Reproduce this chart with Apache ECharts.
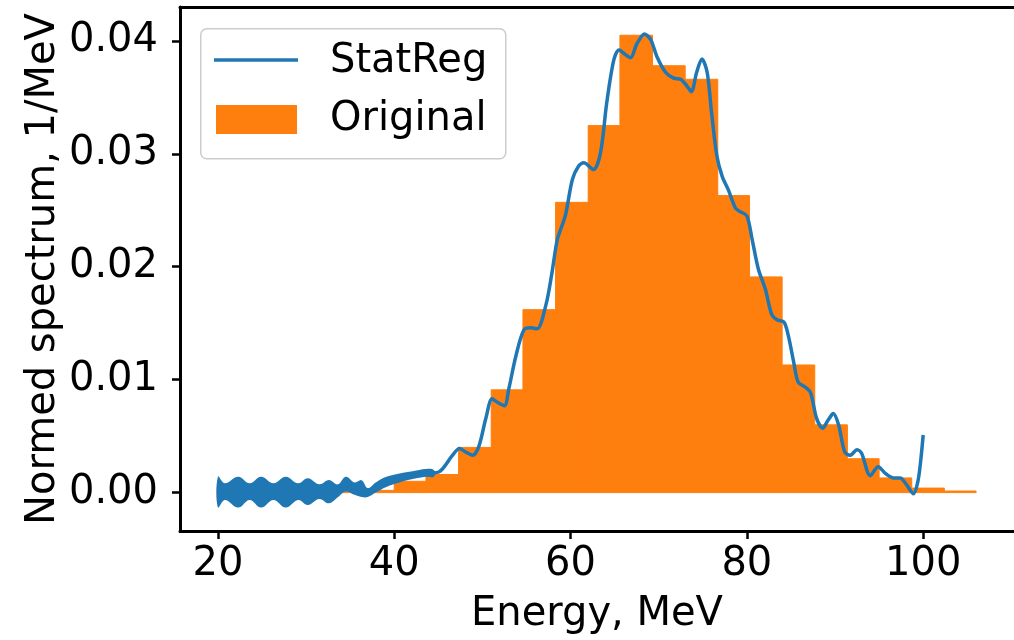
<!DOCTYPE html>
<html>
<head>
<meta charset="utf-8">
<script src="https://cdn.jsdelivr.net/npm/echarts@6/dist/echarts.min.js"></script>
<style>
html,body{margin:0;padding:0;background:#fff;}
#chart{width:1014px;height:640px;}
</style>
</head>
<body>
<div id="chart"></div>
<script>
// Histogram "Original": bin edges (MeV) and heights (1/MeV)
const binEdges = [32.6, 36.3, 40.0, 43.6, 47.3, 51.0, 54.6, 58.3, 62.0, 65.6, 69.3, 73.0, 76.7, 80.3, 84.0, 87.7, 91.4, 95.0, 98.7, 102.4, 106.0];
const histValues = [0.0001, 0.0002, 0.0010, 0.0016, 0.0040, 0.0091, 0.0162, 0.0257, 0.0325, 0.0405, 0.0378, 0.0366, 0.0263, 0.0191, 0.0113, 0.0060, 0.0030, 0.0013, 0.0004, 0.00014];

// StatReg curve (centre line)
const statX = [20.0, 24.0, 28.0, 32.0, 33.6, 34.5, 35.5, 36.3, 37.0, 37.9, 39.1, 40.6, 42.1, 43.6, 45.1,
  46.6, 47.4, 48.1, 48.9, 49.6, 50.4, 51.1, 51.7, 52.5, 53.0, 53.8, 54.7, 55.5, 56.2, 57.2, 57.9, 58.5,
  59.4, 60.2, 60.9, 61.5, 62.6, 63.4, 64.1, 64.9, 65.5, 66.2, 66.8, 67.5, 68.4, 69.1, 69.8, 70.8, 71.7,
  72.5, 73.2, 73.7, 74.3, 74.9, 75.5, 76.0, 76.6, 77.2, 77.9, 78.7, 79.2, 80.0, 80.6, 81.3, 82.1, 82.8,
  83.4, 84.2, 84.7, 85.3, 85.8, 86.5, 87.2, 87.9, 88.6, 89.2, 89.8, 90.4, 91.1, 91.7, 92.5, 93.0, 94.0,
  94.9, 95.7, 96.6, 97.4, 98.1, 98.9, 99.4, 99.7, 100.0];
const statY = [0.0001, 0.0001, 0.0001, 0.0001, 0.0002, 0.0007, 0.0004, 0.0004, 0.0000, 0.0004, 0.0009, 0.0013, 0.0015, 0.0017, 0.00185,
  0.0033, 0.0039, 0.0036, 0.0033, 0.0041, 0.0066, 0.0083, 0.0080, 0.0077, 0.0092, 0.0121, 0.0144, 0.0146, 0.0145, 0.0166, 0.0195, 0.0224,
  0.0245, 0.0277, 0.0289, 0.0292, 0.0286, 0.0301, 0.0345, 0.0383, 0.0392, 0.0388, 0.0385, 0.0397, 0.0406, 0.0401, 0.0386, 0.0372, 0.0367,
  0.0366, 0.0360, 0.0355, 0.0372, 0.0384, 0.0372, 0.0336, 0.0298, 0.0280, 0.0268, 0.0252, 0.0249, 0.0245, 0.0224, 0.0198, 0.0180, 0.0158,
  0.0153, 0.0151, 0.0139, 0.0116, 0.0098, 0.0094, 0.0089, 0.0066, 0.0057, 0.0064, 0.0070, 0.0060, 0.0036, 0.0033, 0.0038, 0.0035, 0.0015,
  0.0023, 0.0017, 0.0013, 0.0013, 0.0007, -0.0001, 0.0010, 0.0027, 0.0051];

// Envelope of the fast oscillation of the StatReg curve at low energies
const bandX  = [20.0, 20.8, 22.3, 23.6, 24.9, 26.3, 27.7, 29.1, 30.2, 31.5, 32.6, 33.6, 34.5, 35.5, 36.3, 37.0, 37.9, 39.1, 40.6, 42.1, 43.6, 44.5];
const bandHi = [0.00141, 0.00082, 0.00141, 0.00082, 0.00141, 0.00082, 0.00141, 0.00082, 0.00126, 0.00073, 0.00111, 0.00073, 0.00141, 0.0009, 0.0011, 0.0004, 0.0009, 0.0014, 0.0017, 0.0019, 0.0021, 0.0020];
const bandLo = [-0.00132, -0.00065, -0.00132, -0.00065, -0.00132, -0.00065, -0.00132, -0.00065, -0.00109, -0.00056, -0.00094, -0.00041, 0.0001, -0.0002, -0.0004, -0.0004, 0.0000, 0.0005, 0.0009, 0.0012, 0.0014, 0.0014];

// Axis tick labels
const xTicks = [20, 40, 60, 80, 100];
const yTicks = [0, 0.01, 0.02, 0.03, 0.04];

const BLUE = '#1f77b4';
const ORANGE = '#ff7f0e';
const FONT = 'DejaVu Sans';

const histData = histValues.map((v, i) => [binEdges[i], binEdges[i + 1], v]);
const lineData = statX.map((x, i) => [x, statY[i]]);
const bandData = bandX.map((x, i) => [x, bandLo[i], bandHi[i]]);

const chart = echarts.init(document.getElementById('chart'), null, {renderer: 'canvas'});
chart.setOption({
  animation: false,
  backgroundColor: '#fff',
  grid: {left: 180, right: -3, top: 7, bottom: 107, show: false},
  xAxis: [{
    type: 'value', min: 15.7, max: 110.3, position: 'bottom',
    name: 'Energy, MeV', nameLocation: 'middle', nameGap: 64, nameMoveOverlap: false,
    nameTextStyle: {fontSize: 40, color: '#000', fontFamily: FONT},
    axisLine: {show: true, onZero: false, lineStyle: {color: '#000', width: 3}},
    axisTick: {show: true, length: 8, lineStyle: {color: '#000', width: 2.5}, customValues: xTicks},
    axisLabel: {fontSize: 40, color: '#000', fontFamily: FONT, margin: 14, customValues: xTicks, formatter: v => String(v)},
    splitLine: {show: false}
  }, {
    type: 'value', min: 15.7, max: 110.3, position: 'top',
    axisLine: {show: true, onZero: false, lineStyle: {color: '#000', width: 3}},
    axisTick: {show: false}, axisLabel: {show: false}, splitLine: {show: false}
  }],
  yAxis: {
    type: 'value', min: -0.0034, max: 0.0430,
    name: 'Normed spectrum, 1/MeV', nameLocation: 'middle', nameGap: 116, nameMoveOverlap: false,
    nameTextStyle: {fontSize: 40, color: '#000', fontFamily: FONT},
    axisLine: {show: true, onZero: false, lineStyle: {color: '#000', width: 3}},
    axisTick: {show: true, length: 8, lineStyle: {color: '#000', width: 2.5}, customValues: yTicks},
    axisLabel: {fontSize: 40, color: '#000', fontFamily: FONT, margin: 22, customValues: yTicks, formatter: v => v.toFixed(2)},
    splitLine: {show: false}
  },
  series: [
    {
      name: 'Original', type: 'custom', z: 2,
      data: histData,
      encode: {x: [0, 1], y: 2},
      renderItem: function (params, api) {
        const p0 = api.coord([api.value(0), api.value(2)]);
        const p1 = api.coord([api.value(1), 0]);
        return {type: 'rect', shape: {x: p0[0], y: p0[1], width: p1[0] - p0[0], height: p1[1] - p0[1]},
          style: {fill: ORANGE, stroke: ORANGE, lineWidth: 1}};
      }
    },
    {
      name: 'StatRegBand', type: 'custom', z: 3,
      data: bandData,
      encode: {x: 0, y: [1, 2]},
      renderItem: function (params, api) {
        if (params.dataIndex !== 0) return null;
        const pts = [];
        for (let i = 0; i < bandX.length; i++) pts.push(api.coord([bandX[i], bandHi[i]]));
        for (let i = bandX.length - 1; i >= 0; i--) pts.push(api.coord([bandX[i], bandLo[i]]));
        return {type: 'polygon', shape: {points: pts, smooth: 0.4}, style: {fill: BLUE}};
      }
    },
    {
      name: 'StatReg', type: 'line', z: 4,
      data: lineData,
      showSymbol: false, symbol: 'none', smooth: 0.3,
      lineStyle: {color: BLUE, width: 3.5},
      itemStyle: {color: BLUE}
    }
  ],
  graphic: [
    {type: 'rect', left: 200, top: 28, z: 100,
     shape: {width: 305, height: 130, r: 6},
     style: {fill: 'rgba(255,255,255,0.8)', stroke: '#cccccc', lineWidth: 1.5}},
    {type: 'line', z: 101, shape: {x1: 214, y1: 60, x2: 298, y2: 60}, style: {stroke: BLUE, lineWidth: 3.5}},
    {type: 'rect', z: 101, shape: {x: 216, y: 105, width: 81, height: 29}, style: {fill: ORANGE}},
    {type: 'text', z: 101, x: 330, y: 62, style: {text: 'StatReg', font: '40px "DejaVu Sans"', fill: '#000', verticalAlign: 'middle'}},
    {type: 'text', z: 101, x: 330, y: 120, style: {text: 'Original', font: '40px "DejaVu Sans"', fill: '#000', verticalAlign: 'middle'}}
  ]
});
</script>
</body>
</html>
